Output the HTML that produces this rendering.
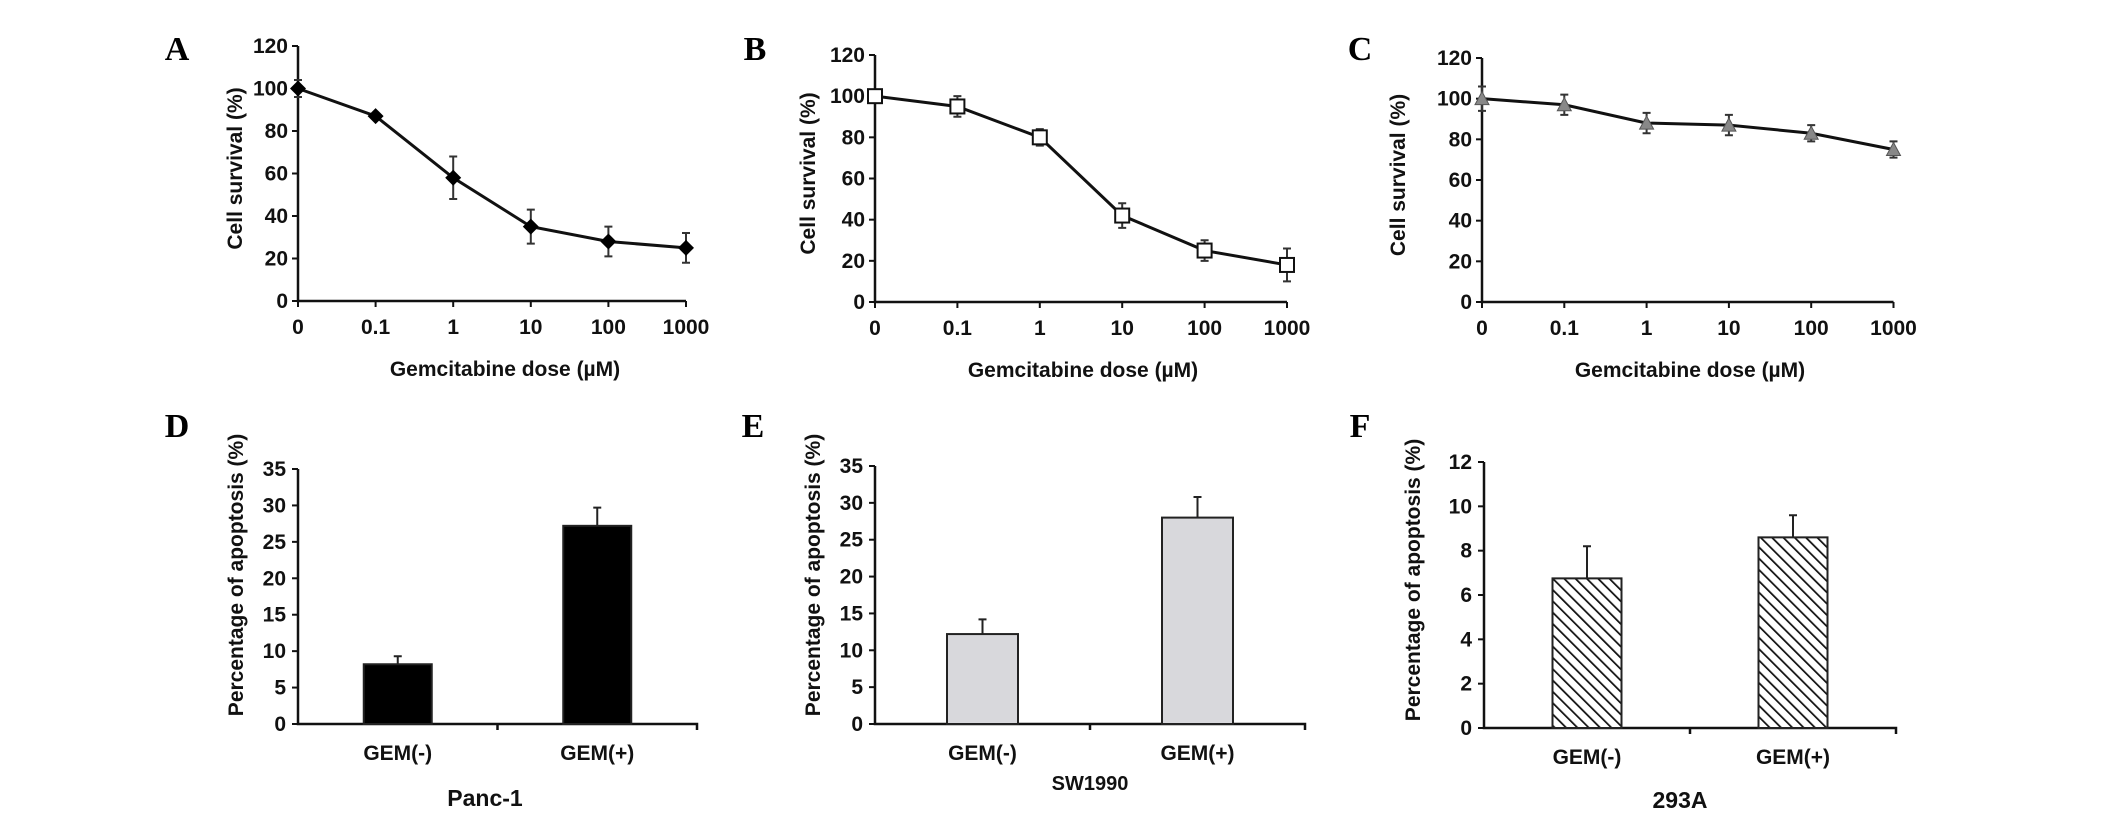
<!DOCTYPE html>
<html><head><meta charset="utf-8"><style>
html,body{margin:0;padding:0;background:#fff;}
svg{display:block;font-family:"Liberation Sans",Arial,sans-serif;}
.t{font-size:21px;font-weight:bold;fill:#111;}
.ttl{font-size:21px;font-weight:bold;fill:#111;}
.lab{font-family:"Liberation Serif",serif;font-size:34px;font-weight:bold;fill:#000;}
</style></head><body>
<svg id="fig" width="2126" height="820" viewBox="0 0 2126 820"></svg>
<script>
// ---- data ----
const doseLabels = ["0","0.1","1","10","100","1000"];
const survivalA = [100, 87, 58, 35, 28, 25];
const errA = [4, 1, 10, 8, 7, 7];
const survivalB = [100, 95, 80, 42, 25, 18];
const errB = [3, 5, 4, 6, 5, 8];
const survivalC = [100, 97, 88, 87, 83, 75];
const errC = [6, 5, 5, 5, 4, 4];
const survivalTicks = [0, 20, 40, 60, 80, 100, 120];
const barCategories = ["GEM(-)", "GEM(+)"];
const apoptosisD = [8.2, 27.2];
const errD = [1.1, 2.5];
const apoptosisE = [12.2, 28.0];
const errE = [2.0, 2.8];
const apoptosisF = [6.75, 8.6];
const errF = [1.45, 1.0];
const ticks35 = [0, 5, 10, 15, 20, 25, 30, 35];
const ticks12 = [0, 2, 4, 6, 8, 10, 12];

const NS = "http://www.w3.org/2000/svg";
const svg = document.getElementById("fig");
function mk(tag, attrs, parent, text) {
  const e = document.createElementNS(NS, tag);
  for (const k in attrs) e.setAttribute(k, attrs[k]);
  if (text !== undefined) e.textContent = text;
  (parent || svg).appendChild(e);
  return e;
}
// hatch pattern
const defs = mk("defs", {});
const pat = mk("pattern", {id: "hatch", patternUnits: "userSpaceOnUse", width: 8, height: 8, patternTransform: "rotate(-45)"}, defs);
mk("rect", {x: 0, y: 0, width: 8, height: 8, fill: "#fff"}, pat);
mk("line", {x1: 0, y1: 0, x2: 0, y2: 8, stroke: "#111", "stroke-width": 3.5}, pat);

function panelLabel(txt, x, y) {
  const t = mk("text", {x: x, y: y, class: "lab", "text-anchor": "middle"}, svg, txt);
  
  
}

function lineChart(id, cfg, vals, errs) {
  const g = mk("g", {});
  
  
  const ymax = survivalTicks[survivalTicks.length - 1];
  const yS = v => cfg.y0 - (v / ymax) * (cfg.y0 - cfg.yTop);
  const xS = i => cfg.x0 + i * cfg.dx;
  const xEnd = xS(doseLabels.length - 1);
  const ax = mk("path", {d: `M${cfg.x0},${cfg.yTop}V${cfg.y0}H${xEnd}`, fill: "none", stroke: "#111", "stroke-width": 2.5}, g);
  
  
  survivalTicks.forEach(v => {
    mk("line", {x1: cfg.x0 - 6, x2: cfg.x0, y1: yS(v), y2: yS(v), stroke: "#111", "stroke-width": 2}, g);
    const t = mk("text", {x: cfg.x0 - 10, y: yS(v) + 7, class: "t", "text-anchor": "end"}, g, v);
    
    
  });
  doseLabels.forEach((d, i) => {
    mk("line", {x1: xS(i), x2: xS(i), y1: cfg.y0, y2: cfg.y0 + 6, stroke: "#111", "stroke-width": 2}, g);
    const t = mk("text", {x: xS(i), y: cfg.y0 + 33, class: "t", "text-anchor": "middle"}, g, d);
    
    
  });
  const xt = mk("text", {x: cfg.titleX, y: cfg.y0 + 75, class: "ttl", "text-anchor": "middle", "xml:space": "preserve"}, g, cfg.xTitle);
  
  
  const yt = mk("text", {x: 0, y: 0, class: "ttl", "text-anchor": "middle", "xml:space": "preserve", transform: `translate(${cfg.yLabX},${(cfg.y0 + cfg.yTop) / 2 - 5}) rotate(-90)`}, g, cfg.yTitle);
  
  
  vals.forEach((v, i) => {
    const e = mk("path", {d: `M${xS(i)},${yS(v + errs[i])}V${yS(v - errs[i])}M${xS(i) - 4},${yS(v + errs[i])}h8M${xS(i) - 4},${yS(v - errs[i])}h8`, stroke: cfg.errColor, "stroke-width": 2, fill: "none"}, g);
    
    
  });
  const pl = mk("polyline", {points: vals.map((v, i) => xS(i) + "," + yS(v)).join(" "), fill: "none", stroke: "#111", "stroke-width": 3}, g);
  
  
  vals.forEach((v, i) => {
    const x = xS(i), y = yS(v);
    let m;
    if (cfg.marker === "diamond") m = mk("path", {d: `M${x},${y - 8}L${x + 8},${y}L${x},${y + 8}L${x - 8},${y}Z`, fill: "#000"}, g);
    else if (cfg.marker === "square") m = mk("rect", {x: x - 7, y: y - 7, width: 14, height: 14, fill: "#fff", stroke: "#111", "stroke-width": 2}, g);
    else m = mk("path", {d: `M${x},${y - 7}L${x + 7},${y + 6}L${x - 7},${y + 6}Z`, fill: "#888", stroke: "#555", "stroke-width": 1}, g);
    
    
  });
}

function barChart(id, cfg, vals, errs, ticks) {
  const g = mk("g", {});
  
  
  const ymax = ticks[ticks.length - 1];
  const yS = v => cfg.y0 - (v / ymax) * (cfg.y0 - cfg.yTop);
  const slot = (cfg.xEnd - cfg.x0) / barCategories.length;
  const cx = i => cfg.x0 + slot * (i + 0.5);
  const ax = mk("path", {d: `M${cfg.x0},${cfg.yTop}V${cfg.y0}H${cfg.xEnd}v6M${cfg.x0 + slot},${cfg.y0}v6`, fill: "none", stroke: "#111", "stroke-width": 2.5}, g);
  
  
  ticks.forEach(v => {
    mk("line", {x1: cfg.x0 - 6, x2: cfg.x0, y1: yS(v), y2: yS(v), stroke: "#111", "stroke-width": 2}, g);
    const t = mk("text", {x: cfg.x0 - 12, y: yS(v) + 7, class: "t", "text-anchor": "end"}, g, v);
    
    
  });
  vals.forEach((v, i) => {
    const e = mk("path", {d: `M${cx(i)},${yS(v)}V${yS(v + errs[i])}M${cx(i) - 4},${yS(v + errs[i])}h8`, stroke: "#222", "stroke-width": 2, fill: "none"}, g);
    
    
    const r = mk("rect", {x: cx(i) - cfg.bw / 2, y: yS(v), width: cfg.bw, height: cfg.y0 - yS(v), fill: cfg.fill, stroke: "#222", "stroke-width": 2}, g);
    
    
    const t = mk("text", {x: cx(i), y: cfg.y0 + 36, class: "t", "text-anchor": "middle"}, g, barCategories[i]);
    
    
  });
  const xt = mk("text", {x: cfg.titleX, y: cfg.titleY, class: "ttl", "text-anchor": "middle", style: "font-size:" + cfg.titleSize + "px"}, g, cfg.xTitle);
  
  
  const yt = mk("text", {x: 0, y: 0, class: "ttl", "text-anchor": "middle", transform: `translate(${cfg.yLabX},${cfg.yLabY}) rotate(-90)`}, g, "Percentage of apoptosis (%)");
  
  
}

panelLabel("A", 177, 60);
panelLabel("B", 755, 60);
panelLabel("C", 1360, 60);
panelLabel("D", 177, 437);
panelLabel("E", 753, 437);
panelLabel("F", 1360, 437);

lineChart("a", {x0: 298, dx: 77.6, y0: 301, yTop: 46, titleX: 505, xTitle: "Gemcitabine  dose (\u00b5M)", yTitle: "Cell survival (%)", yLabX: 242, marker: "diamond", errColor: "#333"}, survivalA, errA);
lineChart("b", {x0: 875, dx: 82.4, y0: 302, yTop: 55, titleX: 1083, xTitle: "Gemcitabine   dose  (\u00b5M)", yTitle: "Cell  survival (%)", yLabX: 815, marker: "square", errColor: "#333"}, survivalB, errB);
lineChart("c", {x0: 1482, dx: 82.3, y0: 302, yTop: 58, titleX: 1690, xTitle: "Gemcitabine   dose  (\u00b5M)", yTitle: "Cell survival (%)", yLabX: 1405, marker: "triangle", errColor: "#333"}, survivalC, errC);

barChart("d", {x0: 298, xEnd: 697, y0: 724, yTop: 469, bw: 68, fill: "#000", titleX: 485, titleY: 806, titleSize: 23, xTitle: "Panc-1", yLabX: 243, yLabY: 575}, apoptosisD, errD, ticks35);
barChart("e", {x0: 875, xEnd: 1305, y0: 724, yTop: 466, bw: 71, fill: "#d8d8dc", titleX: 1090, titleY: 790, titleSize: 20, xTitle: "SW1990", yLabX: 820, yLabY: 575}, apoptosisE, errE, ticks35);
barChart("f", {x0: 1484, xEnd: 1896, y0: 728, yTop: 462, bw: 69, fill: "url(#hatch)", titleX: 1680, titleY: 808, titleSize: 23, xTitle: "293A", yLabX: 1420, yLabY: 580}, apoptosisF, errF, ticks12);
</script>
</body></html>
